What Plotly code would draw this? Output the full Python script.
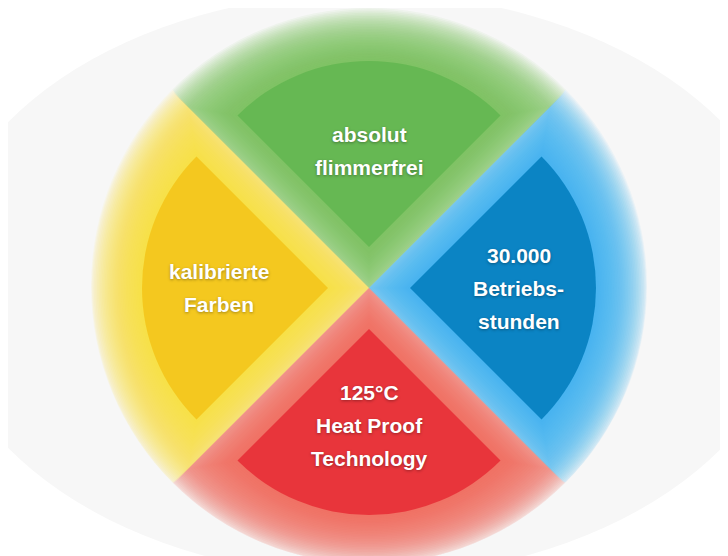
import numpy as np
import plotly.graph_objects as go

# ---- data ----
labels = ["absolut<br>flimmerfrei",
          "30.000<br>Betriebs-<br>stunden",
          "125°C<br>Heat Proof<br>Technology",
          "kalibrierte<br>Farben"]
values = [1, 1, 1, 1]
colors = ["#66b853", "#0b84c4", "#e8353b", "#f4c81f"]
glow_colors = ["#7cc45e", "#3ab2ec", "#f06a54", "#f8e23c"]

# ---- layout constants (pixels, figure coordinates; page has an 8px body margin) ----
W, H = 728, 556
OFF = 8
CX, CY = 369 - OFF, 288 - OFF   # centre of the exploded pie
R = 186                          # slice radius
A = 41                           # explode distance of slice tips
GLOW = 53                        # glow extent
N_GLOW = 34

def domain_for(r, pull):
    h = r * (1 + pull)
    return dict(x=[(CX - h) / W, (CX + h) / W],
                y=[max(0.0, 1 - (CY + h) / H), min(1.0, 1 - (CY - h) / H)])

def rgba(hexc, a):
    hexc = hexc.lstrip("#")
    r, g, b = int(hexc[0:2], 16), int(hexc[2:4], 16), int(hexc[4:6], 16)
    return f"rgba({r},{g},{b},{a})"

fig = go.Figure()

common = dict(values=values, labels=labels, sort=False, direction="clockwise",
              rotation=-45, textinfo="none", hoverinfo="skip", showlegend=False)

# soft glow layers (outer -> inner)
for k in range(N_GLOW):
    e = GLOW * (1 - k / (N_GLOW - 1))
    a = max(A - 1.414 * e, 0.0)
    r = R + A + e - a
    pull = a / r
    fig.add_trace(go.Pie(
        **common,
        pull=[pull] * len(values),
        domain=domain_for(r, pull),
        marker=dict(colors=[rgba(c, 0.065) for c in glow_colors],
                    line=dict(width=0)),
    ))

# main slices
fig.add_trace(go.Pie(
    **common,
    pull=[A / R] * len(values),
    domain=domain_for(R, A / R),
    marker=dict(colors=colors, line=dict(width=0)),
))

# labels inside slices
DX, DY = 150, 137
LINE = 33
annotations = []
for i, lab in enumerate(labels):
    ang = np.deg2rad(i * 90)           # clockwise from top
    tx = CX + DX * np.sin(ang)
    ty = CY - DY * np.cos(ang)
    lines = lab.split("<br>")
    n = len(lines)
    for j, ln in enumerate(lines):
        ly = ty + (j - (n - 1) / 2) * LINE
        annotations.append(dict(
            x=tx / W, y=1 - ly / H, xref="paper", yref="paper",
            text=ln, showarrow=False, xanchor="center", yanchor="middle",
            font=dict(family="Liberation Sans, Arial, sans-serif", size=21,
                      weight="bold", color="white",
                      shadow="0px 1px 3px rgba(0,0,0,0.35)"),
        ))

# faint background disc
shapes = [
    dict(type="circle", xref="paper", yref="paper", layer="below",
         x0=(365 - OFF - 430) / W, x1=(365 - OFF + 430) / W,
         y0=1 - (285 - OFF + 292) / H, y1=1 - (285 - OFF - 292) / H,
         fillcolor="#f7f7f7", line=dict(width=0)),
]

fig.update_layout(
    width=W, height=H,
    margin=dict(l=0, r=0, t=0, b=0),
    paper_bgcolor="white", plot_bgcolor="white",
    annotations=annotations, shapes=shapes,
)

fig.write_html("out.html")
